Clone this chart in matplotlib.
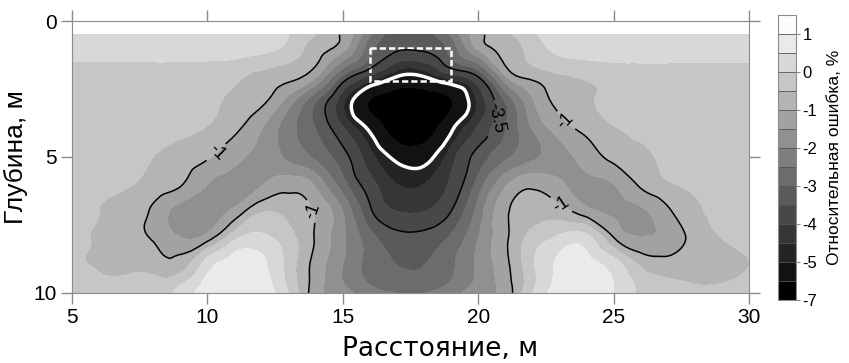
import numpy as np
import matplotlib
matplotlib.use("Agg")
import matplotlib.pyplot as plt
import matplotlib.tri as mtri
from matplotlib.patches import Rectangle

plt.rcParams['font.family'] = ['Liberation Sans', 'DejaVu Sans']
plt.rcParams['axes.unicode_minus'] = False
plt.rcParams['contour.negative_linestyle'] = 'solid'

# distance along profile, m (columns) and depth, m (rows)
dist = list(range(5, 31))
depth = [0.5, 1, 2, 3, 4, 5, 6, 7, 8, 9, 10]

# relative error, %, one list per depth
err_d05 = [.25, .25, .25, .25, .25, .25, .25, .2, 0.0, -0.5, -1.1, -2.4, -3.2,
           -3.2, -2.4, -1.2, -0.6, -0.1, .2, .25, .25, .25, .25, .25, .25, .25]
err_d1 = [.25, .25, .25, .25, .25, .25, .25, .15, -0.15, -0.75, -1.3, -2.8, -3.4,
          -3.4, -2.8, -1.4, -0.8, -0.3, .15, .22, .25, .25, .25, .25, .25, .25]
err_d2 = [-.25, -.25, -.25, -.25, -.25, -.3, -.4, -.6, -.8, -1.4, -3.0, -4.0, -4.9,
          -4.9, -4.1, -3.4, -1.5, -.8, -.55, -.4, -.3, -.25, -.25, -.25, -.25, -.25]
err_d3 = [-.25, -.25, -.25, -.25, -.3, -.4, -.6, -.9, -1.8, -3.0, -4.4, -6.1, -6.8,
          -6.8, -6.1, -4.4, -3.0, -1.6, -.85, -.55, -.4, -.3, -.25, -.25, -.25, -.25]
err_d4 = [-.25, -.25, -.25, -.25, -.35, -.55, -.9, -1.5, -2.3, -3.0, -3.9, -5.1, -6.6,
          -6.6, -5.1, -3.9, -3.0, -2.0, -1.3, -.85, -.55, -.4, -.3, -.25, -.25, -.25]
err_d5 = [-.25, -.3, -.35, -.5, -.75, -.95, -1.35, -1.7, -2.1, -2.6, -3.3, -4.3, -5.2,
          -5.3, -4.2, -3.3, -2.6, -2.1, -1.7, -1.3, -.85, -.6, -.4, -.3, -.25, -.25]
err_d6 = [-.3, -.35, -.45, -.65, -.95, -1.5, -1.75, -1.55, -1.2, -1.6, -2.8, -3.8, -4.5,
          -4.5, -3.9, -2.8, -1.6, -1.1, -1.4, -1.65, -1.5, -.9, -.55, -.4, -.3, -.3]
err_d7 = [-.35, -.5, -.75, -1.1, -1.7, -1.75, -1.35, -.55, -.7, -1.05, -2.0, -3.4, -4.0,
          -4.0, -3.5, -2.3, -1.1, -.75, -.8, -1.3, -1.6, -1.6, -1.1, -.6, -.4, -.35]
err_d8 = [-.4, -.55, -.75, -1.05, -1.45, -1.2, -.1, .15, -.3, -1.05, -1.9, -2.8, -3.3,
          -3.3, -2.9, -2.0, -1.1, -.3, .15, .2, -.95, -1.45, -1.35, -.8, -.5, -.4]
err_d9 = [-.45, -.55, -.65, -.7, -.75, .3, .7, .6, -.2, -1.2, -2.0, -2.7, -3.0,
          -3.0, -2.6, -1.9, -1.15, -.1, .6, .65, .3, -.55, -.75, -.7, -.6, -.5]
err_d10 = [-.4, -.4, -.4, -.3, .2, .75, .9, .8, 0.0, -1.3, -1.8, -2.3, -2.5,
           -2.5, -2.2, -1.7, -1.3, 0.0, .75, .85, .5, -.1, -.4, -.45, -.45, -.45]

levels = [-7, -6, -5, -4.5, -4, -3.5, -3, -2.5, -2, -1.5, -1, -0.5, 0, 0.5, 1, 1.5]
cbar_ticks = [1, 0, -1, -2, -3, -4, -5, -7]

rel_error = np.array([err_d05, err_d1, err_d2, err_d3, err_d4, err_d5,
                      err_d6, err_d7, err_d8, err_d9, err_d10])

# smooth the grid for drawing (cubic on a refined triangulation)
X, Y = np.meshgrid(dist, depth)
tri = mtri.Triangulation(X.ravel(), Y.ravel())
interp = mtri.CubicTriInterpolator(tri, rel_error.ravel())
refiner = mtri.UniformTriRefiner(tri)
tri_f, z_f = refiner.refine_field(rel_error.ravel(), triinterpolator=interp, subdiv=3)
z_f = np.clip(z_f, levels[0] + 0.01, levels[-1] - 0.01)

grays = [str(g) for g in np.linspace(0.0, 0.99, len(levels) - 1)]

fig = plt.figure(figsize=(8.49, 3.63), dpi=100)
ax = fig.add_axes([0.0848, 0.193, 0.7974, 0.749])

cf = ax.tricontourf(tri_f, z_f, levels=levels, colors=grays)
cl = ax.tricontour(tri_f, z_f, levels=[-3.5, -1], colors='black', linewidths=1.1)
ax.tricontour(tri_f, z_f, levels=[-5], colors='white', linewidths=2.5)
ax.clabel(cl, fmt={-3.5: '-3.5', -1: '-1'}, fontsize=13, inline=True,
          manual=[(10.3, 4.8), (13.85, 7.0), (23.3, 3.6), (23.1, 6.7), (20.7, 3.6)])

# anomaly position
ax.add_patch(Rectangle((16, 1.0), 3, 1.2, fill=False, ec='white', lw=1.8,
                       ls=(0, (2.5, 1.2))))

ax.set_xlim(5, 30)
ax.set_ylim(10, 0)
ax.set_xticks([5, 10, 15, 20, 25, 30])
ax.set_yticks([0, 5, 10])
ax.tick_params(direction='out', top=True, right=True, length=8, width=1,
               color='#8c8c8c', labelsize=15, pad=3)
for s in ax.spines.values():
    s.set_color('#8c8c8c')
ax.set_xlabel('Расстояние, м', fontsize=19, family=['DejaVu Sans'])
ax.xaxis.label.set_va('baseline')
ax.xaxis.set_label_coords(0.544, -0.232)
ax.set_ylabel('Глубина, м', fontsize=19, labelpad=4)

cax = fig.add_axes([0.916, 0.174, 0.021, 0.785])
cb = fig.colorbar(cf, cax=cax, ticks=cbar_ticks, drawedges=True)
cb.outline.set_edgecolor('#8c8c8c')
cb.dividers.set_color('#555555')
cb.dividers.set_linewidth(0.6)
cax.tick_params(length=3, color='#8c8c8c', labelsize=12, pad=2)
cb.set_label('Относительная ошибка, %', fontsize=12.5, labelpad=7)

fig.savefig('out.png', dpi=100)
